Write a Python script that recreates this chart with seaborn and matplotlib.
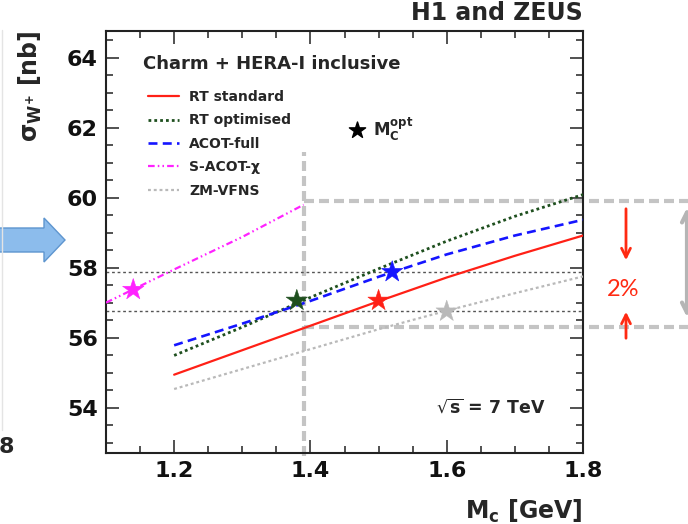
import matplotlib
matplotlib.use("Agg")
import matplotlib.pyplot as plt
import matplotlib.transforms as mtransforms
from matplotlib.patches import FancyArrow
from matplotlib.lines import Line2D
from matplotlib.ticker import MultipleLocator
import seaborn as sns

# Charm-mass scan of the W+ cross section for each heavy-flavour scheme
mc_grid = [1.2, 1.3, 1.4, 1.5, 1.6, 1.7, 1.8]
rt_standard = [54.94, 55.64, 56.34, 57.04, 57.72, 58.34, 58.92]
rt_optimised = [55.49, 56.30, 57.15, 57.97, 58.76, 59.47, 60.09]
acot_full = [55.78, 56.40, 57.05, 57.74, 58.38, 58.92, 59.37]
zm_vfns = [54.53, 55.10, 55.67, 56.24, 56.77, 57.27, 57.75]
sacot_mc = [1.10, 1.20, 1.30, 1.39]
sacot_chi = [57.00, 57.95, 58.88, 59.80]

scheme_names = ["RT standard", "RT optimised", "ACOT-full", "S-ACOT-\u03c7", "ZM-VFNS"]
scheme_colors = ["#ff2016", "#1e4f1e", "#1515ff", "#ff22ff", "#b9b9b9"]

# optimal charm mass of each scheme and its cross section
star_scheme = ["S-ACOT-\u03c7", "RT optimised", "ACOT-full", "RT standard", "ZM-VFNS"]
star_mc = [1.14, 1.38, 1.52, 1.50, 1.60]
star_sigma = [57.37, 57.06, 57.88, 57.06, 56.75]

# box marking the spread at the fixed mass value
box_mc = 1.39
box_top = 59.90
box_bottom = 56.30

x_ticks = [1.2, 1.4, 1.6, 1.8]
x_tick_labels = ["1.2", "1.4", "1.6", "1.8"]
y_ticks = [54, 56, 58, 60, 62, 64]
y_tick_labels = ["54", "56", "58", "60", "62", "64"]

sns.set_theme(style="ticks")
plt.rcParams["font.family"] = ["DejaVu Sans"]
plt.rcParams["mathtext.fontset"] = "dejavusans"
plt.rcParams["mathtext.default"] = "bf"

W, H = 688, 524
fig = plt.figure(figsize=(W / 100, H / 100), dpi=100)
fig.patch.set_facecolor("white")
ax = fig.add_axes([106 / W, 1 - 453 / H, 477 / W, 422 / H])
ax.set_facecolor("white")


def px(x, y):
    return (x / W, 1 - y / H)


pix = mtransforms.Affine2D().scale(1 / W, 1 / H) + fig.transFigure

palette = dict(zip(scheme_names, scheme_colors))
styles = {
    "RT standard": dict(linestyle="-", lw=1.6),
    "RT optimised": dict(linestyle=(0, (1.0, 1.1)), lw=2.0),
    "ACOT-full": dict(linestyle=(0, (3.4, 2.0)), lw=1.9),
    "S-ACOT-\u03c7": dict(linestyle=(0, (3.0, 1.4, 0.7, 1.4, 0.7, 1.4)), lw=1.6),
    "ZM-VFNS": dict(linestyle=(0, (1.3, 1.3)), lw=1.6),
}
series = {
    "RT standard": (mc_grid, rt_standard),
    "RT optimised": (mc_grid, rt_optimised),
    "ACOT-full": (mc_grid, acot_full),
    "S-ACOT-\u03c7": (sacot_mc, sacot_chi),
    "ZM-VFNS": (mc_grid, zm_vfns),
}

# thick grey dashed box
grey_box = dict(color="#c4c4c4", lw=3.0, linestyle=(0, (2.4, 1.2)), clip_on=False, zorder=1)
ax.plot([box_mc, box_mc], [52.6, 61.3], **grey_box)
ax.plot([box_mc, 1.954], [box_top, box_top], **grey_box)
ax.plot([box_mc, 1.954], [box_bottom, box_bottom], **grey_box)

# reference levels at the extreme optimal values
for level in (max(star_sigma), min(star_sigma)):
    ax.axhline(level, color="#555555", lw=1.0, linestyle=(0, (2.0, 2.0)), zorder=2)

handles = []
for name in scheme_names:
    xs, ys = series[name]
    sns.lineplot(x=xs, y=ys, ax=ax, color=palette[name], label=name,
                 zorder=3, **styles[name])
    handles.append(ax.lines[-1])

sns.scatterplot(x=star_mc, y=star_sigma, hue=star_scheme, palette=palette,
                marker="*", s=260, linewidth=0.4, edgecolor="face",
                legend=False, ax=ax, zorder=4)

ax.set_xlim(1.1, 1.8)
ax.set_ylim(52.7, 64.77)
ax.set_xticks(x_ticks)
ax.set_xticklabels(x_tick_labels, fontweight="bold")
ax.set_yticks(y_ticks)
ax.set_yticklabels(y_tick_labels, fontweight="bold")
ax.xaxis.set_minor_locator(MultipleLocator(0.05))
ax.yaxis.set_minor_locator(MultipleLocator(0.5))
ax.tick_params(which="both", direction="in", top=True, right=True,
               width=1.1, color="#222222", labelsize=16, labelcolor="#111111")
ax.tick_params(which="major", length=9.5, pad=6)
ax.tick_params(which="minor", length=5)
for s in ax.spines.values():
    s.set_linewidth(1.5)
    s.set_color("#222222")
    s.set_visible(True)

ax.set_xlabel(r"$M_c$ [GeV]", fontsize=17, fontweight="bold", loc="right")
ax.xaxis.set_label_coords(1.0, -0.105)
ax.set_ylabel(r"$\sigma_{W^{+}}$ [nb]", fontsize=17, fontweight="bold", loc="top")
ax.yaxis.set_label_coords(-0.13, 1.0)

# legend heading and scheme legend
fig.text(*px(143, 64), "Charm + HERA-I inclusive", fontsize=13,
         fontweight="bold", ha="left", va="center")
leg = ax.legend(handles=handles, labels=scheme_names, loc="upper left",
                bbox_to_anchor=px(148, 90), bbox_transform=fig.transFigure,
                frameon=False, prop={"weight": "bold", "size": 10},
                handlelength=2.2, handletextpad=0.75, labelspacing=0.68,
                borderpad=0, borderaxespad=0)

# optimal-mass key
ax.scatter([1.469], [61.94], marker="*", s=150, color="black", zorder=4)
ax.text(1.492, 61.94, r"$M_C^{opt}$", fontsize=12, va="center", ha="left")
ax.text(1.585, 54.0, r"$\sqrt{s}$ = 7 TeV", fontsize=12.5, fontweight="bold",
        va="center", ha="left")

fig.text(*px(583, 13), "H1 and ZEUS", fontsize=17, fontweight="bold",
         ha="right", va="center")

# spread annotation on the right
red = "#ff2a12"
fig.add_artist(matplotlib.text.Annotation(
    "", xy=px(626, 263), xytext=px(626, 206), xycoords="figure fraction",
    textcoords="figure fraction",
    arrowprops=dict(arrowstyle="->", color=red, lw=2, mutation_scale=16)))
fig.add_artist(matplotlib.text.Annotation(
    "", xy=px(626, 309), xytext=px(626, 341), xycoords="figure fraction",
    textcoords="figure fraction",
    arrowprops=dict(arrowstyle="->", color=red, lw=2, mutation_scale=16)))
fig.text(*px(623, 289), "2%", fontsize=17, color=red, family="Lato",
         ha="center", va="center")
fig.add_artist(matplotlib.text.Annotation(
    "", xy=px(687, 205), xytext=px(687, 320), xycoords="figure fraction",
    textcoords="figure fraction",
    arrowprops=dict(arrowstyle="<->", color="#b5b5b5", lw=3, mutation_scale=18)))

# pointer arrow and neighbouring panel edge on the left
fig.add_artist(FancyArrow(-10, H - 240, 75, 0, width=24, head_width=44,
                          head_length=21, length_includes_head=True,
                          fc="#8cbcec", ec="#5e95cf", lw=1, transform=pix))
fig.add_artist(Line2D([2, 2], [H - 30, H - 430], transform=pix,
                      color="#e4e4e4", lw=1))
fig.text(*px(14, 447), "8", fontsize=16, fontweight="bold", ha="right", va="center")

fig.savefig("out.png", dpi=100, facecolor="white")
